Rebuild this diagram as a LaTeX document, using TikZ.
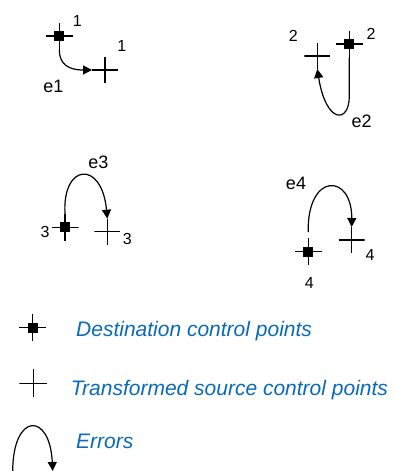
\documentclass[tikz,border=0pt]{standalone}
\usepackage{fontspec}
\setmainfont{Liberation Sans}
\usetikzlibrary{arrows.meta}
\definecolor{legblue}{RGB}{10,106,184}
\begin{document}
\begin{tikzpicture}[x=1pt,y=-1pt,
  dstpt/.style={minimum size=27pt,inner sep=0pt,outer sep=0pt,path picture={
    \draw[line width=1.5pt] (path picture bounding box.north) -- (path picture bounding box.south)
      (path picture bounding box.west) -- (path picture bounding box.east);
    \fill ([shift={(-5pt,-5pt)}]path picture bounding box.center) rectangle ([shift={(5pt,5pt)}]path picture bounding box.center);}},
  srcpt/.style={minimum size=26pt,inner sep=0pt,outer sep=0pt,path picture={
    \draw[line width=1.4pt] (path picture bounding box.north) -- (path picture bounding box.south)
      (path picture bounding box.west) -- (path picture bounding box.east);}},
  num/.style={inner sep=0pt,font=\fontsize{16}{16}\selectfont},
  elab/.style={inner sep=0pt,font=\fontsize{18}{18}\selectfont},
  err/.style={line width=1.2pt,-{Triangle[length=9pt,width=9pt]}},
  legend/.style={anchor=base west,inner sep=0pt,text=legblue,font=\fontsize{21}{21}\selectfont\itshape}]
\useasboundingbox (0,0) rectangle (395,471);

% group 1
\node[dstpt] (d1) at (59.3,36) {};
\node[srcpt] (s1) at (105,70) {};
\node[num] (n1a) at (77.3,20.5) {1};
\node[num] (n1b) at (121.7,46) {1};
\node[elab] (e1) at (53.3,86.3) {e1};
\draw[err] (d1.south) .. controls (59.3,64) and (68,70) .. (s1.west);

% group 2
\node[srcpt] (s2) at (317.3,56) {};
\node[dstpt] (d2) at (349.3,44) {};
\node[num] (n2a) at (293.3,35.8) {2};
\node[num] (n2b) at (371,34) {2};
\node[elab] (e2) at (361.7,121.7) {e2};
\draw[err] (d2.south) -- (349.3,96) .. controls (349.3,124) and (326,124) .. (s2.south);

% group 3
\node[dstpt] (d3) at (65,227.3) {};
\node[srcpt] (s3) at (107.3,231.7) {};
\node[num] (n3a) at (45,231.7) {3};
\node[num] (n3b) at (127.3,238.7) {3};
\node[elab] (e3) at (98.3,162) {e3};
\draw[err] (d3.north) .. controls (62,163) and (102,160) .. (s3.north);

% group 4
\node[dstpt] (d4) at (308.3,251.7) {};
\node[srcpt] (s4) at (351.7,240) {};
\node[num] (n4a) at (370,255) {4};
\node[num] (n4b) at (309.3,282.5) {4};
\node[elab] (e4) at (296,183.3) {e4};
\draw[err,shorten <=6pt] (d4.north) .. controls (307,172) and (352,173) .. (s4.north);

% legend
\node[dstpt] (ld) at (32.7,327.7) {};
\node[legend] (ldt) at (76,336) {Destination control points};
\node[srcpt,minimum size=28pt] (ls) at (33.3,383.3) {};
\node[legend] (lst) at (70.7,395) {Transformed source control points};
\coordinate (es) at (12.7,471);
\coordinate (ee) at (52.7,471);
\draw[err] (es) .. controls (13,412) and (50,412) .. (ee);
\node[legend] (let) at (76,448) {Errors};
\end{tikzpicture}
\end{document}
